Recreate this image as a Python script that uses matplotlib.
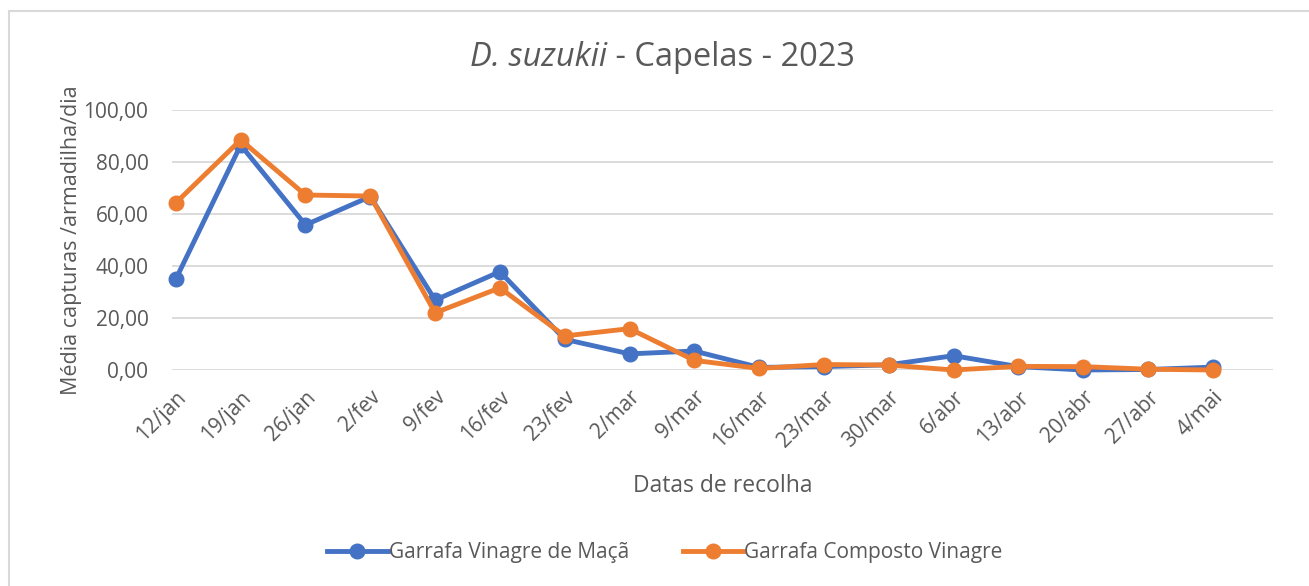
import matplotlib
matplotlib.use("Agg")
import matplotlib.pyplot as plt
from matplotlib.patches import Rectangle
from matplotlib.ticker import FuncFormatter

plt.rcParams['font.family'] = ['Open Sans', 'DejaVu Sans']

# Dados
datas = ['12/jan', '19/jan', '26/jan', '2/fev', '9/fev', '16/fev', '23/fev', '2/mar',
         '9/mar', '16/mar', '23/mar', '30/mar', '6/abr', '13/abr', '20/abr', '27/abr', '4/mai']
vinagre_maca = [35.0, 86.5, 55.8, 66.7, 26.9, 37.8, 11.8, 6.2,
                7.3, 1.0, 1.3, 2.0, 5.5, 1.3, 0.0, 0.2, 1.1]
composto_vinagre = [64.3, 88.5, 67.3, 66.9, 22.0, 31.6, 13.1, 15.9,
                    3.7, 0.6, 2.1, 1.9, 0.0, 1.4, 1.3, 0.3, 0.0]

cinza = '#595959'
azul = '#4472C4'
laranja = '#ED7D31'

fig = plt.figure(figsize=(13.09, 5.86), dpi=100)
ax = fig.add_axes([0.1314, 0.3686, 0.8411, 0.4437])

x = list(range(len(datas)))
ax.plot(x, vinagre_maca, color=azul, lw=3.5, marker='o', ms=10.5,
        label='Garrafa Vinagre de Maçã', zorder=3, clip_on=False)
ax.plot(x, composto_vinagre, color=laranja, lw=3.5, marker='o', ms=10.5,
        label='Garrafa Composto Vinagre', zorder=4, clip_on=False)

ax.set_xlim(-0.06, 16.93)
ax.set_ylim(0, 100)
ax.set_yticks([0, 20, 40, 60, 80, 100])
ax.yaxis.set_major_formatter(FuncFormatter(lambda v, p: f'{v:.2f}'.replace('.', ',')))
ax.set_xticks(x)
ax.set_xticklabels(datas, rotation=45, ha='right', rotation_mode='anchor')
ax.tick_params(axis='x', length=0, labelsize=15, colors=cinza, pad=12)
ax.tick_params(axis='y', length=0, labelsize=15, colors=cinza, pad=17)
ax.grid(axis='y', color='#d9d9d9', lw=1.3)
ax.set_axisbelow(True)
for s in ax.spines.values():
    s.set_visible(False)

ax.set_xlabel('Datas de recolha', fontsize=16.5, color=cinza, labelpad=16)
ax.set_ylabel('Média capturas /armadilha/dia', fontsize=15.5, color=cinza, labelpad=1)

t1 = fig.text(470 / 1309, 0.888, 'D. suzukii', fontsize=23.5, color=cinza,
              style='italic', ha='left', va='baseline')
ax.annotate(' - Capelas - 2023', xy=(1, 0), xycoords=t1, fontsize=23.5, color=cinza,
            ha='left', va='bottom')

leg = fig.legend(loc='center', bbox_to_anchor=(0.508, 0.057), ncol=2, frameon=False,
                 fontsize=15, handlelength=2.9, handletextpad=0.05, columnspacing=2.6)
for t in leg.get_texts():
    t.set_color(cinza)

fig.patches.append(Rectangle((9 / 1309, -0.1), 1.2, 1 - 11 / 586 + 0.1,
                             transform=fig.transFigure, fill=False,
                             edgecolor='#d9d9d9', lw=1.5))

fig.savefig('out.png', dpi=100)
